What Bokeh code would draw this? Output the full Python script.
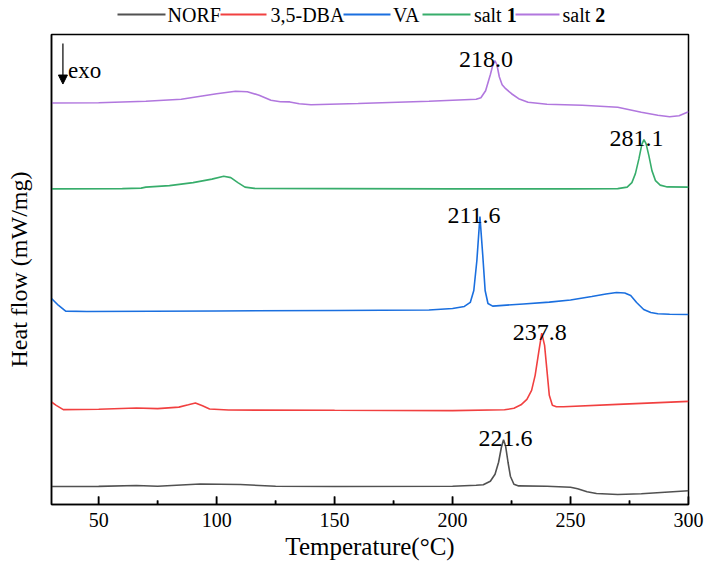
import numpy as np
from bokeh.plotting import figure
from bokeh.layouts import column
from bokeh.models import FixedTicker, Arrow, NormalHead, Label
from bokeh.core.properties import value
from bokeh.embed import file_html
from bokeh.resources import INLINE

FONT = "Liberation Serif"

# ---------------- data ----------------
series_names = ["NORF", "3,5-DBA", "VA", "salt 1", "salt 2"]
colors = ["#515151", "#F14040", "#1A6FDF", "#37AD6B", "#B177DE"]

norf_T = [30, 50, 66, 75, 93, 110, 125, 150, 200, 210, 213, 216, 218, 219.5, 220.7,
          221.6, 222.5, 223.5, 224.5, 226, 228, 240, 250, 253, 257, 261, 270, 280, 290, 300]
norf_y = [0.180, 0.181, 0.190, 0.183, 0.205, 0.200, 0.183, 0.180, 0.183, 0.193, 0.198,
          0.233, 0.303, 0.423, 0.573, 0.648, 0.583, 0.423, 0.283, 0.203, 0.186, 0.183,
          0.173, 0.158, 0.128, 0.110, 0.100, 0.108, 0.123, 0.138]

dba_T = [30, 32, 35, 50, 66, 75, 84, 88, 91, 94, 97, 105, 150, 200, 222, 226, 229, 231.5,
         233.5, 235, 236.5, 237.8, 239, 240, 241, 242.3, 244, 247, 270, 300]
dba_y = [1.026, 0.993, 0.950, 0.953, 0.966, 0.960, 0.975, 0.998, 1.016, 0.988, 0.956,
         0.946, 0.943, 0.940, 0.948, 0.963, 0.998, 1.053, 1.143, 1.293, 1.523, 1.716,
         1.593, 1.343, 1.093, 0.993, 0.978, 0.978, 1.003, 1.033]

va_T = [30, 33, 36, 45, 100, 150, 190, 200, 205, 207.5, 209, 210.3, 211.6, 212.8, 213.8,
        215, 217, 230, 241, 250, 259, 265, 269.5, 273, 275.5, 278, 281, 284, 287, 292, 300]
va_y = [2.063, 1.993, 1.936, 1.933, 1.938, 1.943, 1.948, 1.963, 1.983, 2.023, 2.143,
        2.443, 2.883, 2.493, 2.143, 2.013, 1.986, 2.008, 2.026, 2.048, 2.083, 2.108,
        2.123, 2.118, 2.093, 2.023, 1.953, 1.923, 1.910, 1.905, 1.903]

salt1_T = [30, 60, 68, 70, 80, 90, 98, 103, 106, 109, 112, 116, 150, 200, 250, 270, 274,
           276, 277.5, 279, 280.2, 281.1, 282, 283.2, 284.5, 286, 288, 291, 300]
salt1_y = [3.160, 3.163, 3.168, 3.178, 3.193, 3.223, 3.258, 3.286, 3.273, 3.223, 3.178,
           3.165, 3.163, 3.160, 3.160, 3.163, 3.178, 3.223, 3.313, 3.463, 3.603, 3.653,
           3.613, 3.493, 3.343, 3.243, 3.198, 3.180, 3.178]

salt2_T = [30, 50, 70, 85, 100, 108, 113, 118, 123, 127, 131, 135, 140, 160, 190, 210, 212,
           214, 216, 217.2, 218.0, 218.8, 219.8, 221, 222.5, 225, 228, 232, 240, 255, 270,
           280, 287, 292, 296, 300]
salt2_y = [4.020, 4.023, 4.038, 4.058, 4.113, 4.138, 4.133, 4.098, 4.048, 4.033, 4.031,
           4.013, 4.003, 4.015, 4.038, 4.058, 4.073, 4.143, 4.303, 4.413, 4.443, 4.403,
           4.283, 4.203, 4.163, 4.113, 4.063, 4.028, 4.008, 3.998, 3.978, 3.928, 3.898,
           3.883, 3.893, 3.933]

peak_T = [221.6, 237.8, 211.6, 281.1, 218.0]
peak_text = ["221.6", "237.8", "211.6", "281.1", "218.0"]

x_ticks = [50, 100, 150, 200, 250, 300]
x_minor_ticks = [75, 125, 175, 225, 275]
x_title = "Temperature(°C)"
y_title = "Heat flow (mW/mg)"

all_T = [norf_T, dba_T, va_T, salt1_T, salt2_T]
all_y = [norf_y, dba_y, va_y, salt1_y, salt2_y]

# ---------------- layout constants (page pixels) ----------------
W, H = 708, 567
FRAME_L, FRAME_R = 51, 688
LEG_H = 32
Y_MAX = 4.706
FRAME_H_PX = 470.0

# ---------------- legend strip (frame aligned with main frame; x in page px) ----------------
leg = figure(width=W, height=LEG_H, x_range=(FRAME_L, FRAME_R), y_range=(0, LEG_H),
             output_backend="svg", toolbar_location=None,
             min_border_left=FRAME_L, min_border_right=W - FRAME_R,
             min_border_top=0, min_border_bottom=0,
             x_axis_type=None, y_axis_type=None, outline_line_color=None)
leg.background_fill_color = "white"
leg.border_fill_color = "white"
leg_line_x0 = [117, 220, 343, 422, 515]
leg_line_x1 = [165, 266, 390, 470, 559]
leg_text_x = [167, 270, 392.6, 473.4, 562]
leg_main = ["NORF", "3,5-DBA", "VA", "salt", "salt"]
leg_bold = ["", "", "", "1", "2"]
leg.segment(x0=leg_line_x0, y0=[LEG_H - 14] * 5, x1=leg_line_x1, y1=[LEG_H - 14] * 5,
            line_color=colors, line_width=1.8)
leg.text(x=leg_text_x, y=[LEG_H - 14.5] * 5, text=leg_main, text_font=value(FONT),
         text_font_size=value("20px"), text_baseline="middle", text_align="left",
         text_color="black")
bx = [leg_text_x[i] + 32.8 for i in range(5) if leg_bold[i]]
bt = [b for b in leg_bold if b]
leg.text(x=bx, y=[LEG_H - 14.5] * len(bx), text=bt, text_font=value(FONT),
         text_font_size=value("20px"), text_font_style="bold", text_baseline="middle",
         text_align="left", text_color="black")

# ---------------- main plot ----------------
p = figure(width=W, height=H - LEG_H, x_range=(30, 300), y_range=(0, Y_MAX),
           output_backend="svg", toolbar_location=None,
           min_border_left=FRAME_L, min_border_right=W - FRAME_R,
           min_border_top=2, min_border_bottom=63)
p.xgrid.visible = False
p.ygrid.visible = False
p.outline_line_color = "black"
p.outline_line_width = 1.5
p.outline_line_alpha = 1.0
p.background_fill_color = "white"
p.border_fill_color = "white"

for T, y, c in zip(all_T, all_y, colors):
    p.line(T, y, line_color=c, line_width=1.6)

# inward tick marks (drawn from the tick lists, 8 px major / 4 px minor)
px_to_y = Y_MAX / FRAME_H_PX
p.segment(x0=x_ticks, y0=[0] * len(x_ticks), x1=x_ticks, y1=[8 * px_to_y] * len(x_ticks),
          line_color="black", line_width=1.5)
p.segment(x0=x_minor_ticks, y0=[0] * len(x_minor_ticks), x1=x_minor_ticks,
          y1=[4 * px_to_y] * len(x_minor_ticks), line_color="black", line_width=1.5)

peak_y = [float(np.interp(t, T, y)) for t, T, y in zip(peak_T, all_T, all_y)]
label_dx = [2, -2, -6, -7.5, -9]
p.text(x=peak_T, y=peak_y, text=peak_text, x_offset=label_dx, y_offset=-1,
       text_font=value(FONT), text_font_size=value("24px"), text_align="center",
       text_baseline="alphabetic", text_color="black")

xa = p.xaxis[0]
xa.ticker = FixedTicker(ticks=x_ticks, minor_ticks=x_minor_ticks)
xa.major_tick_in = 8
xa.major_tick_out = 0
xa.minor_tick_in = 4
xa.minor_tick_out = 0
xa.axis_line_width = 1.5
xa.major_tick_line_width = 1.5
xa.minor_tick_line_width = 1.5
xa.axis_line_color = "black"
xa.major_tick_line_color = "black"
xa.minor_tick_line_color = "black"
xa.major_label_text_font = FONT
xa.major_label_text_font_size = "20px"
xa.major_label_text_color = "black"
xa.major_label_standoff = 8
xa.axis_label = x_title
xa.axis_label_text_font = FONT
xa.axis_label_text_font_size = "25px"
xa.axis_label_text_font_style = "normal"
xa.axis_label_text_color = "black"
xa.axis_label_standoff = 3

ya = p.yaxis[0]
ya.ticker = FixedTicker(ticks=[])
ya.major_tick_in = 0
ya.major_tick_out = 0
ya.minor_tick_in = 0
ya.minor_tick_out = 0
ya.major_label_standoff = 0
ya.axis_line_width = 1.5
ya.axis_line_color = "black"
ya.axis_label = y_title
ya.axis_label_text_font = FONT
ya.axis_label_text_font_size = "24px"
ya.axis_label_text_font_style = "normal"
ya.axis_label_text_color = "black"
ya.axis_label_standoff = 20

p.add_layout(Arrow(end=NormalHead(size=9, fill_color="black", line_color="black"),
                   x_start=34.84, y_start=4.616, x_end=34.84, y_end=4.21,
                   line_color="black", line_width=1.2))
p.add_layout(Label(x=36.96, y=4.343, text="exo", text_font=FONT, text_font_size="23px",
                   text_baseline="alphabetic", text_color="black"))

layout = column(leg, p, spacing=0)
open("out.html", "w").write(file_html(layout, INLINE))
